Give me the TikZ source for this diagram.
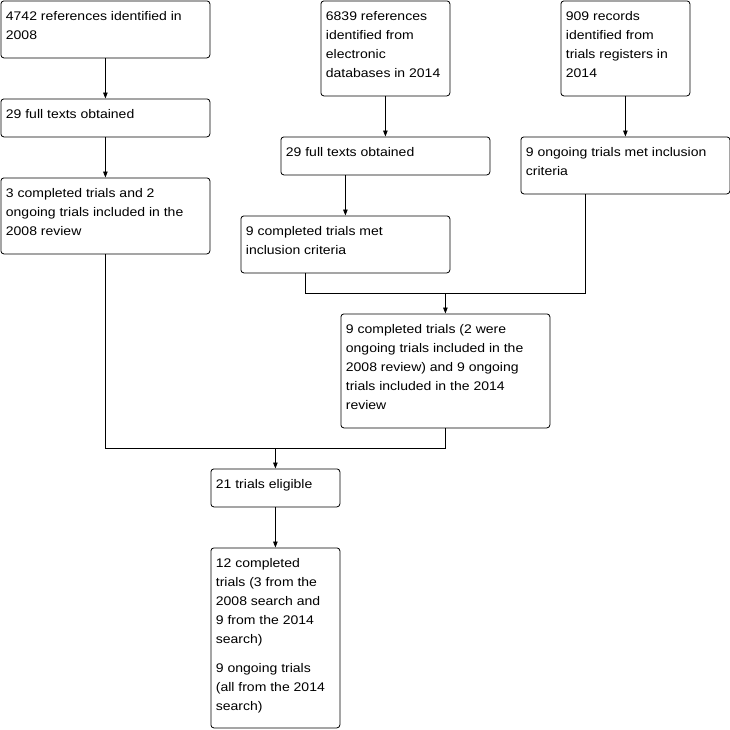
\documentclass[tikz,border=0pt]{standalone}
\usepackage{fontspec}
\setmainfont{Liberation Sans}[FakeStretch=1.12]
\usetikzlibrary{arrows.meta, positioning, calc}
\newcommand{\boxtext}[3]{\parbox[c][#2][t]{#1}{\raggedright\rule{0pt}{14pt}#3}}
\tikzset{
    flowbox/.style={draw, rectangle, rounded corners=3pt, line width=0.8pt, fill=white, anchor=north west, inner xsep=5pt, inner ysep=6pt, font=\fontsize{12.5}{19}\selectfont},
    flowarrow/.style={-{Triangle[length=6pt, width=4.5pt]}, line width=0.8pt},
    flowline/.style={line width=0.8pt},
}

\begin{document}
\begin{tikzpicture}[x=1pt, y=-1pt]
\useasboundingbox (0,0) rectangle (730,729);
% 2008 search
\node[flowbox] (ref08) at (0.5,0.5) {\boxtext{199pt}{45pt}{4742 references identified in\\2008}};
\node[flowbox] (full08) at (0.5,98.5) {\boxtext{199pt}{26pt}{29 full texts obtained}};
\node[flowbox] (rev08) at (0.5,177.5) {\boxtext{199pt}{64pt}{3 completed trials and 2\\ongoing trials included in the\\2008 review}};
% 2014 search
\node[flowbox] (db14) at (320.5,0.5) {\boxtext{119pt}{83pt}{6839 references\\identified from\\electronic\\databases in 2014}};
\node[flowbox] (reg14) at (560.5,0.5) {\boxtext{119pt}{83pt}{909 records\\identified from\\trials registers in\\2014}};
\node[flowbox] (full14) at (280.5,136.5) {\boxtext{199pt}{26pt}{29 full texts obtained}};
\node[flowbox] (ongo14) at (520.5,136.5) {\boxtext{199pt}{45pt}{9 ongoing trials met inclusion\\criteria}};
\node[flowbox] (comp14) at (240.5,215.5) {\boxtext{199pt}{45pt}{9 completed trials met\\inclusion criteria}};
\node[flowbox] (incl14) at (340.5,313.5) {\boxtext{199pt}{102pt}{9 completed trials (2 were\\ongoing trials included in the\\2008 review) and 9 ongoing\\trials included in the 2014\\review}};
% combined
\node[flowbox] (elig) at (210.5,468.5) {\boxtext{119pt}{26pt}{21 trials eligible}};
\node[flowbox] (final) at (210.5,547.5) {\boxtext{119pt}{168pt}{12 completed\\trials (3 from the\\2008 search and\\9 from the 2014\\search)\\[10pt]9 ongoing trials\\(all from the 2014\\search)}};

\coordinate (join14) at ($(incl14.north)+(0,-20)$);
\coordinate (join08) at ($(elig.north)+(0,-20)$);
\coordinate (c14out) at ($(comp14.south west)+(65,0)$);
\coordinate (o14out) at ($(ongo14.south west)+(65,0)$);

\draw[flowarrow] (ref08) -- (full08);
\draw[flowarrow] (full08) -- (rev08);
\draw[flowarrow] (db14) -- (full14);
\draw[flowarrow] (reg14) -- (ongo14);
\draw[flowarrow] (full14.south -| comp14.north) -- (comp14.north);
\draw[flowline] (c14out) |- (join14) -| (o14out);
\draw[flowarrow] (join14) -- (incl14.north);
\draw[flowline] (rev08.south) |- (join08) -| (incl14.south);
\draw[flowarrow] (join08) -- (elig.north);
\draw[flowarrow] (elig) -- (final);
\end{tikzpicture}
\end{document}
